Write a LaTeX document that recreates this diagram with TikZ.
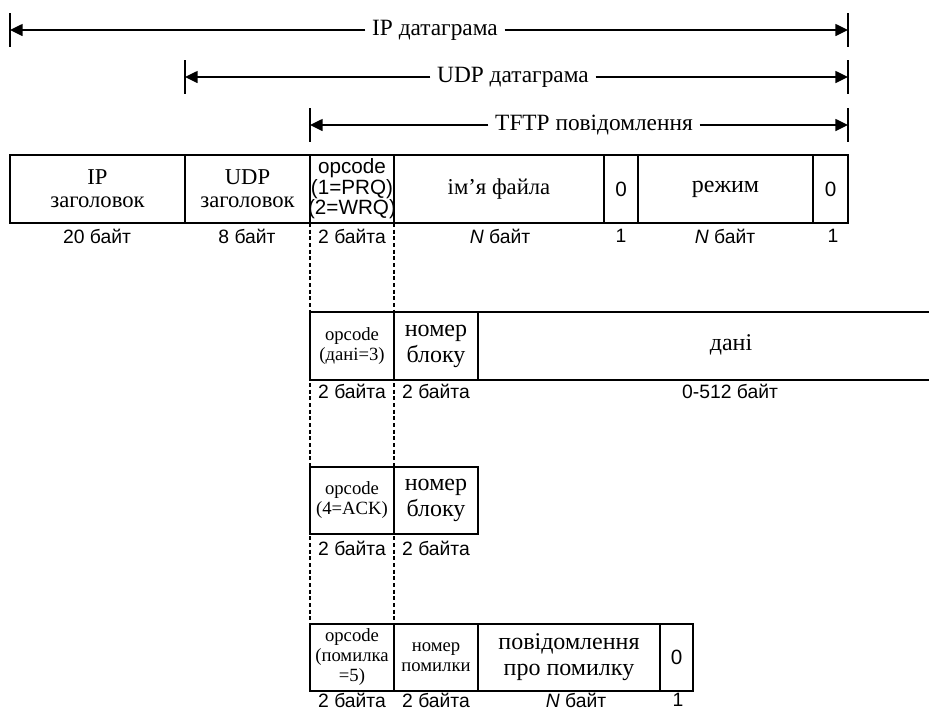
\documentclass[tikz,border=0pt]{standalone}
\usepackage{fontspec}
\setmainfont{Liberation Serif}
\setsansfont{Liberation Sans}
\usetikzlibrary{arrows.meta}

% one field of a packet layout: [style] name, corners, text
\newcommand\fld[7][]{%
  \draw[field] (#3,#4) rectangle (#5,#6);
  \node[celltext,#1] (#2) at ({(#3+#5)/2},{(#4+#6)/2}) {#7};}

\tikzset{
  field/.style={line width=1.1pt},
  celltext/.style={align=center, inner sep=0pt, font=\fontsize{18}{19}\selectfont},
  hdcell/.style={font=\fontsize{17}{17}\selectfont},
  mid/.style={font=\fontsize{17}{17}\selectfont},
  twoline/.style={font=\fontsize{18}{19.5}\selectfont},
  tiny/.style={font=\fontsize{14}{15}\selectfont},
  sanscell/.style={font=\sffamily\fontsize{15.5}{15.4}\selectfont},
  hdr/.style={font=\fontsize{17.5}{19}\selectfont, inner xsep=5pt, inner ysep=0pt},
  span/.style={line width=1.1pt, -{Triangle[length=9.5pt,width=9pt]}},
  tickline/.style={line width=1.1pt},
  guide/.style={line width=1.1pt, dash pattern=on 3pt off 2pt},
  lbl/.style={font=\sffamily\fontsize{14.5}{16}\selectfont, inner sep=0pt},
}

\begin{document}
\begin{tikzpicture}[x=0.75pt,y=-0.75pt]
\useasboundingbox (0,0) rectangle (929,711);

% ---- span arrows above the request packet
\coordinate (ipA) at (10,30);   \coordinate (ipB) at (848,30);
\coordinate (udpA) at (185,77); \coordinate (udpB) at (848,77);
\coordinate (tfA) at (310,125); \coordinate (tfB) at (848,125);
\draw[tickline] (10,13) -- (10,47)   (848,13) -- (848,47);
\draw[tickline] (185,60) -- (185,94) (848,60) -- (848,94);
\draw[tickline] (310,108) -- (310,142) (848,108) -- (848,142);
\node[hdr] (ip) at (435,30) {IP датаграма};
\node[hdr] (udp) at (513,77) {UDP датаграма};
\node[hdr] (tf) at (594,125) {TFTP повідомлення};
\draw[span] (ip.west) -- (ipA);   \draw[span] (ip.east) -- (ipB);
\draw[span] (udp.west) -- (udpA); \draw[span] (udp.east) -- (udpB);
\draw[span] (tf.west) -- (tfA);   \draw[span] (tf.east) -- (tfB);

% ---- dashed guides for the opcode field
\coordinate (g1a) at (310,223); \coordinate (g1b) at (310,624);
\coordinate (g2a) at (394,223); \coordinate (g2b) at (394,624);
\draw[guide] (g1a) -- (g1b);
\draw[guide] (g2a) -- (g2b);

% ---- RRQ / WRQ
\fld[hdcell]{iph}{10}{155}{185}{223}{IP\\заголовок}
\fld[hdcell]{udph}{185}{155}{310}{223}{UDP\\заголовок}
\fld[sanscell]{op1}{310}{155}{394}{223}{opcode\\(1=PRQ)\\(2=WRQ)}
\fld[mid]{fname}{394}{155}{604}{223}{ім’я файла}
\fld[sanscell]{z1}{604}{155}{638}{223}{0}
\fld{mode}{638}{155}{813}{223}{режим}
\fld[sanscell]{z2}{813}{155}{848}{223}{0}
\node[lbl] (s1) at (97,236) {20 байт};
\node[lbl] (s2) at (247,236) {8 байт};
\node[lbl] (s3) at (352,236) {2 байта};
\node[lbl] (s4) at (500,236) {\textit{N} байт};
\node[lbl] (s5) at (621,236) {1};
\node[lbl] (s6) at (725,236) {\textit{N} байт};
\node[lbl] (s7) at (833,236) {1};

% ---- DATA
\fld[tiny]{op3}{310}{312}{394}{380}{opcode\\(дані=3)}
\fld[twoline]{blk3}{394}{312}{478}{380}{номер\\блоку}
\draw[field] (478,312) -- (478,380);
\draw[field] (478,312) -- (929,312) (478,380) -- (929,380);
\node[celltext] (data) at (731,345) {дані};
\node[lbl] (d1) at (352,391) {2 байта};
\node[lbl] (d2) at (436,391) {2 байта};
\node[lbl] (d3) at (730,391) {0-512 байт};

% ---- ACK
\fld[tiny]{op4}{310}{467}{394}{534}{opcode\\(4=ACK)}
\fld[twoline]{blk4}{394}{467}{478}{534}{номер\\блоку}
\node[lbl] (a1) at (352,548) {2 байта};
\node[lbl] (a2) at (436,548) {2 байта};

% ---- ERROR
\fld[tiny]{op5}{310}{624}{394}{691}{opcode\\(помилка\\=5)}
\fld[tiny]{ecode}{394}{624}{478}{691}{номер\\помилки}
\fld[twoline]{emsg}{478}{624}{660}{691}{повідомлення\\про помилку}
\fld[sanscell]{z5}{660}{624}{693}{691}{0}
\node[lbl] (e1) at (352,700) {2 байта};
\node[lbl] (e2) at (436,700) {2 байта};
\node[lbl] (e3) at (576,700) {\textit{N} байт};
\node[lbl] (e4) at (678,700) {1};
\end{tikzpicture}
\end{document}
